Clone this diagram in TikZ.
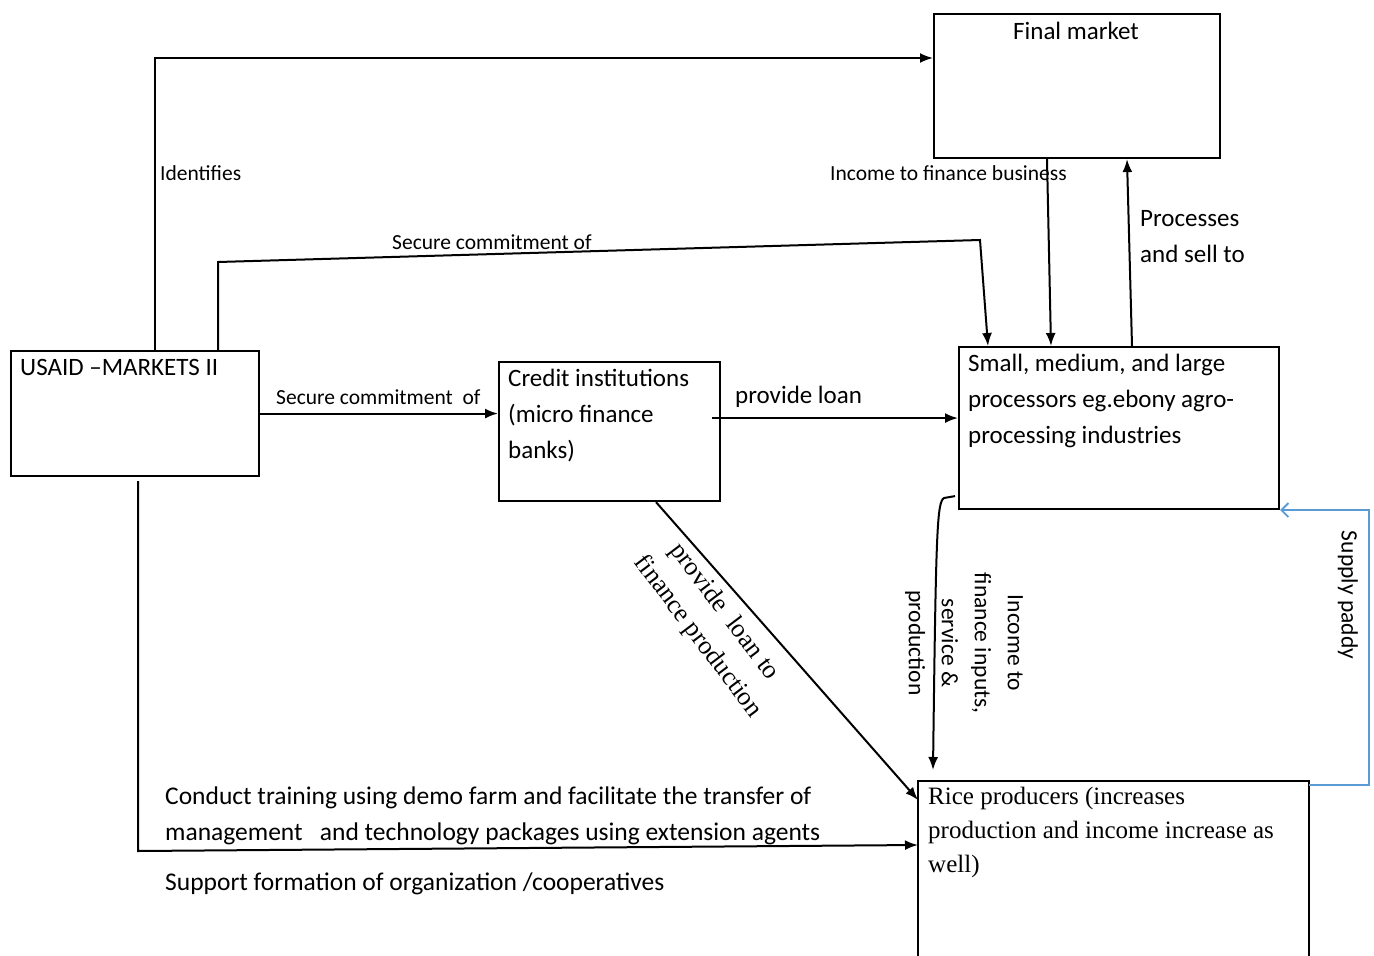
\documentclass[tikz,border=0pt]{standalone}
\usepackage{fontspec}
\setmainfont{Carlito}
\newfontfamily\timesf{Liberation Serif}
\usetikzlibrary{arrows.meta,calc}
\definecolor{wordblue}{RGB}{91,155,213}
\begin{document}
\begin{tikzpicture}[x=1pt,y=-1pt,
  box/.style={draw,line width=2.1pt,inner sep=0pt,anchor=north west},
  ghost/.style={inner sep=0pt,anchor=north west},
  lbl/.style={inner sep=0pt,font=\fontsize{25}{36}\selectfont},
  blbl/.style={inner sep=0pt,font=\fontsize{25.5}{36}\selectfont},
  slbl/.style={inner sep=0pt,font=\fontsize{21.5}{33}\selectfont},
  vlbl/.style={inner sep=0pt,font=\fontsize{23.5}{33}\selectfont},
  serif/.style={inner sep=0pt,font=\timesf\fontsize{25}{34}\selectfont},
  arr/.style={line width=2pt,-{Latex[length=13pt,width=10pt]}},
  bluearr/.style={line width=1.8pt,draw=wordblue,-{Straight Barb[length=7pt,width=14pt]}},
  ]
\useasboundingbox (0,0) rectangle (1374,956);

% boxes
\node[box,minimum width=286pt,minimum height=144pt] (final) at (933,13) {};
\node[box,minimum width=248pt,minimum height=125pt] (usaid) at (10,350) {};
\node[box,minimum width=221pt,minimum height=139pt] (credit) at (498,361) {};
\node[box,minimum width=320pt,minimum height=162pt] (proc) at (958,346) {};
\node[ghost,minimum width=391pt,minimum height=190pt] (rice) at (918,781) {};
\draw[line width=2.1pt] (rice.south west) |- (rice.north east) -- (rice.south east);

% box texts
\node[lbl,anchor=north] (tfinal) at (1076,22) {Final market};
\node[lbl,anchor=north west] (tusaid) at (20,359) {USAID –MARKETS II};
\node[lbl,anchor=north west,align=left] (tcredit) at (508,369) {Credit institutions\\(micro finance\\banks)};
\node[lbl,anchor=north west,align=left] (tproc) at (968,354) {Small, medium, and large\\processors eg.ebony agro-\\processing industries};
\node[serif,anchor=north west,align=left] (trice) at (928,787) {Rice producers (increases\\production and income increase as\\well)};

% connectors
\coordinate (s1) at (218,262);
\coordinate (s2) at (980,240);
\draw[arr] ([xshift=145pt]usaid.north west) |- ([yshift=-45pt]final.north west);
\draw[arr] ([xshift=208pt]usaid.north west) -- (s1) -- (s2) -- ([xshift=30pt]proc.north west);
\draw[arr] (usaid.east) -- (usaid.east -| credit.west);
\draw[arr] ([xshift=-9pt,yshift=13.5pt]credit.east) -- ([yshift=13.5pt]credit.east -| proc.west);
\draw[arr] ([xshift=114pt]final.south west) -- ([xshift=118pt]final.south west |- proc.north);
\draw[arr] ([xshift=174pt]proc.north west) -- ([xshift=169pt]proc.north west |- final.south);
\draw[arr] ([xshift=158pt]credit.south west) -- ([yshift=-19pt]rice.north west);
\coordinate (pr1) at (944,498);
\coordinate (pr2) at (933,770);
\draw[arr] ([xshift=-3pt,yshift=14pt]proc.south west) -- (pr1) .. controls (937,502) and (936,530) .. (pr2);
\draw[bluearr] ([yshift=-4pt]rice.north east) -| ([xshift=89pt]proc.south east) -- (proc.south east);
\coordinate (u1) at (138,851);
\draw[arr] ([xshift=128pt,yshift=-4pt]usaid.south west) -- (u1) -- ([yshift=-64pt]rice.north west);

% connector labels
\node[slbl,anchor=west] (lid) at (160,173) {Identifies};
\node[slbl,anchor=west] (lsec1) at (392,242) {Secure commitment of};
\node[slbl,anchor=west] (lsec2) at (276,397) {Secure commitment\ \ of};
\node[lbl,anchor=west] (lloan) at (735,397) {provide loan};
\node[slbl,anchor=west] (linc) at (830,173) {Income to finance business};
\node[lbl,anchor=north west,align=left] (lproc) at (1140,210) {Processes\\and sell to};
\node[vlbl,rotate=-90] (lsup) at (1348,595) {Supply paddy};
\node[vlbl,rotate=-90,align=center] (lincin) at (964,643) {Income to\\finance inputs,\\service \&\\production};
\node[inner sep=0pt,font=\timesf\fontsize{26}{36}\selectfont,rotate=-53,align=left] (lloan2) at (712,626) {\hspace*{12pt}provide\ \ loan to\\finance production};
\node[blbl,anchor=north west,align=left] (ltrain) at (165,787) {Conduct training using demo farm and facilitate the transfer of\\management\ \ \ and technology packages using extension agents};
\node[blbl,anchor=north west] (lsupport) at (165,873) {Support formation of organization /cooperatives};
\end{tikzpicture}
\end{document}
